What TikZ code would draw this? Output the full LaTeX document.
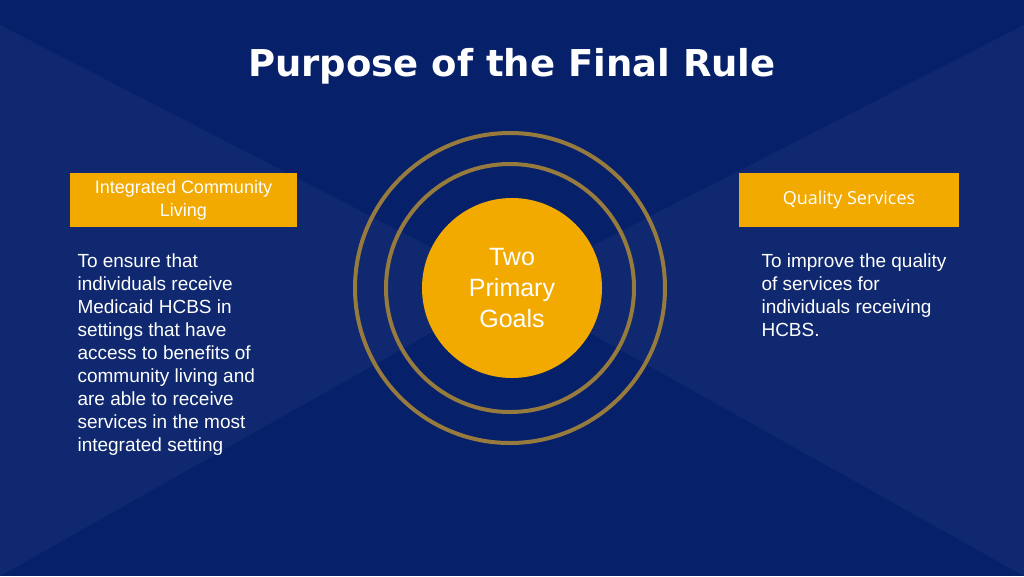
\documentclass[tikz,border=0pt]{standalone}
\usepackage{fontspec}
\setmainfont{Liberation Sans}
\newfontfamily\lightfont{Open Sans}
\newfontfamily\titlefont{DejaVu Sans}
\usetikzlibrary{positioning}
\definecolor{navy}{RGB}{6,32,106}
\definecolor{gold}{RGB}{242,169,0}
\definecolor{ringgold}{RGB}{150,122,62}
\begin{document}
\begin{tikzpicture}
	[x=1pt,y=-1pt,
	goalbox/.style={fill=gold, minimum width=227pt, minimum height=54pt, text=white, align=center, font=\fontsize{18}{23}\selectfont},
	bodytext/.style={text=white, anchor=north west, align=left, font=\fontsize{19}{23}\selectfont},
	ring/.style={draw=ringgold, line width=4pt}]

\fill [navy] (0,0) rectangle (1024,576);
\useasboundingbox (0,0) rectangle (1024,576);
% light beams
\fill [white, opacity=0.04] (510,288) -- (0,25) -- (0,576) -- cycle;
\fill [white, opacity=0.04] (510,288) -- (1024,25) -- (1024,576) -- cycle;

\node [text=white, font=\titlefont\bfseries\fontsize{37}{40}\selectfont] (title) at (512,66) {Purpose of the Final Rule};

\draw [ring] (510,288) circle (155);
\draw [ring] (510,288) circle (124);
\node [circle, fill=gold, minimum size=180pt, text=white, align=center, font=\fontsize{25}{31}\selectfont] (goals) at (512,288) {Two\\Primary\\Goals};

\node [goalbox] (community) at (183.5,200) {Integrated Community\\Living};
\node [goalbox, minimum width=220pt, font=\lightfont\fontsize{18}{22}\selectfont] (quality) at (849,200) {Quality Services};

\node [bodytext] (communitytext) at (74,250) {To ensure that\\individuals receive\\Medicaid HCBS in\\settings that have\\access to benefits of\\community living and\\are able to receive\\services in the most\\integrated setting};
\node [bodytext] (qualitytext) at (758,250) {To improve the quality\\of services for\\individuals receiving\\HCBS.};

\end{tikzpicture}
\end{document}
